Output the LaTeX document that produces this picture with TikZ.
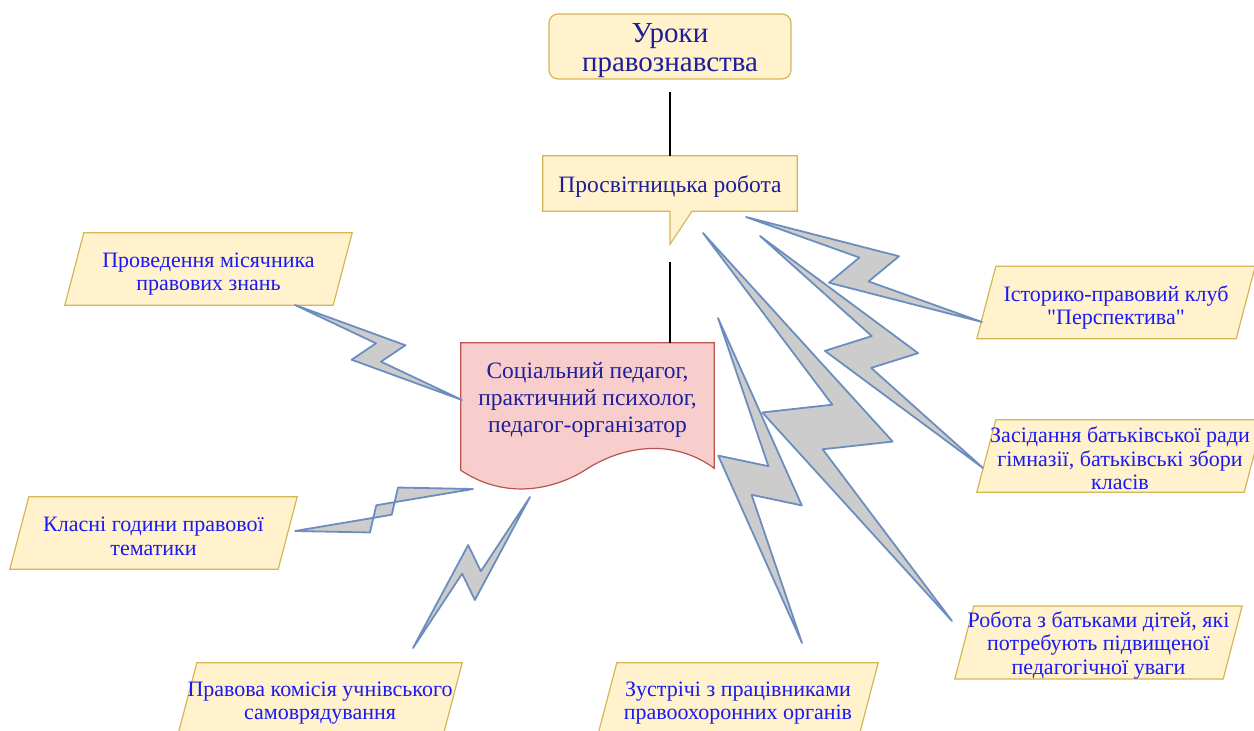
\documentclass[tikz,border=0pt]{standalone}
\usepackage{fontspec}
\setmainfont{Liberation Serif}
\newfontfamily\plainq{Liberation Serif}
\usetikzlibrary{calc}

\definecolor{boxfill}{HTML}{FFF2CC}
\definecolor{boxline}{HTML}{D6B656}
\definecolor{docfill}{HTML}{F8CECC}
\definecolor{docline}{HTML}{B85450}
\definecolor{zapfill}{HTML}{CCCCCC}
\definecolor{zapline}{HTML}{6C8EBF}
\definecolor{navytext}{HTML}{1E1E9A}
\definecolor{bluetext}{HTML}{1A1AF2}

\pgfdeclarelayer{back}
\pgfsetlayers{back,main}

\newcommand\lift[1]{\rule{0pt}{#1}}

\tikzset{
  framed/.style={draw=boxline, fill=boxfill, line width=1.2pt},
  para/.style={minimum height=72pt, inner sep=0pt, text=bluetext, align=center,
    font=\fontsize{22}{23.5}\selectfont},
  zap/.style={draw=zapline, fill=zapfill, line width=1.8pt, line join=round},
  link/.style={draw=black, line width=2pt},
}

% lightning from #1 to #2, and its mirror image
\newcommand\bolt[2]{%
  \draw[zap] (#1) -- ($(#1)!.4663!4.3:(#2)$) -- ($(#1)!.41!-14.4:(#2)$) -- (#2)
    -- ($(#1)!.5361!-3.74:(#2)$) -- ($(#1)!.6116!9.6:(#2)$) -- cycle;}
\newcommand\boltm[2]{%
  \draw[zap] (#1) -- ($(#1)!.5361!-3.74:(#2)$) -- ($(#1)!.6116!9.6:(#2)$) -- (#2)
    -- ($(#1)!.4663!4.3:(#2)$) -- ($(#1)!.41!-14.4:(#2)$) -- cycle;}

\begin{document}
\begin{tikzpicture}[x=1pt,y=-1pt]
  \useasboundingbox (0,0) rectangle (1254,731);
  \clip (0,0) rectangle (1254,731);

  % centre column
  \node[framed, rounded corners=9pt, minimum width=242pt, minimum height=65pt,
    inner sep=0pt, text=navytext, align=center, font=\fontsize{29}{29}\selectfont]
    (lessons) at (670,46.5) {\lift{27pt}Уроки\\правознавства};
  \node[minimum width=254pt, minimum height=55pt, inner sep=0pt, text=navytext,
    text height=20pt, text depth=2pt, font=\fontsize{23.5}{27}\selectfont]
    (edu) at (670,183.5) {Просвітницька робота};
  \coordinate (tip) at ($(edu.south)+(0,33)$);
  \node[minimum width=253pt, minimum height=108pt, inner sep=0pt, text=navytext,
    align=center, font=\fontsize{23.5}{27}\selectfont]
    (staff) at (587.5,397) {\lift{22pt}Соціальний педагог,\\практичний психолог,\\педагог-організатор};

  % activities
  \node[para, minimum width=268pt] (p1) at (208.5,269) {\lift{25pt}Проведення місячника\\правових знань};
  \node[para, minimum width=268pt] (p2) at (153.5,533) {\lift{21pt}Класні години правової\\тематики};
  \node[para, minimum width=265pt] (p3) at (320,699) {\lift{23pt}Правова комісія учнівського\\самоврядування};
  \node[para, minimum width=261pt] (p4) at (738,699) {\lift{23pt}Зустрічі з працівниками\\правоохоронних органів};
  \node[para, minimum width=259pt] (p5) at (1116,302.5) {\lift{26pt}Історико-правовий клуб\\{\plainq"}Перспектива{\plainq"}};
  \node[para, minimum width=267pt] (p6) at (1120,456) {\lift{21pt}Засідання батьківської ради\\гімназії, батьківські збори\\класів};
  \node[para, minimum width=268pt, minimum height=71pt] (p7) at (1098.5,642.5) {\lift{21pt}Робота з батьками дітей, які\\потребують підвищеної\\педагогічної уваги};

  \begin{pgfonlayer}{back}
    \draw[framed] (edu.north west) -- (edu.north east) -- (edu.south east)
      -- ($(edu.south)+(22,0)$) -- (tip) -- (edu.south) -- (edu.south west) -- cycle;
    \draw[draw=docline, fill=docfill, line width=1.2pt] (staff.north west) -- (staff.north east)
      -- ($(staff.south east)+(0,17)$)
      .. controls ($(staff.south)+(82.5,-15)$) and ($(staff.south)+(32.5,-3)$) .. ($(staff.south)+(0.5,17)$)
      .. controls ($(staff.south)+(-32.5,39)$) and ($(staff.south)+(-82.5,49)$) .. ($(staff.south west)+(0,19)$)
      -- cycle;
    \foreach \p in {p1,p2,p3,p4,p5,p6,p7}
      \draw[framed] ($(\p.south west)+(-9.5,0)$) -- ($(\p.north west)+(9.5,0)$)
        -- ($(\p.north east)+(9.5,0)$) -- ($(\p.south east)+(-9.5,0)$) -- cycle;
  \end{pgfonlayer}

  \draw[link, shorten <=12pt] (lessons.south) -- (edu.north);
  \draw[link, shorten <=18pt] (tip) -- (staff.north -| tip);

  % lightning ends
  \coordinate (z1a) at (295,305); \coordinate (z1b) at (462,400);
  \coordinate (z2a) at (473,489); \coordinate (z2b) at (295,531);
  \coordinate (z3a) at (530,497); \coordinate (z3b) at (413,648);
  \coordinate (z4a) at (718,318); \coordinate (z4b) at (802,643);
  \coordinate (z5a) at (746,217); \coordinate (z5b) at (982,322);
  \coordinate (z6a) at (760,236); \coordinate (z6b) at (983,468);
  \coordinate (z7a) at (703,233); \coordinate (z7b) at (952,621);

  \bolt{z1a}{z1b}
  \boltm{z2a}{z2b}
  \bolt{z3a}{z3b}
  \bolt{z4a}{z4b}
  \bolt{z5a}{z5b}
  \bolt{z6a}{z6b}
  \bolt{z7a}{z7b}
\end{tikzpicture}
\end{document}
